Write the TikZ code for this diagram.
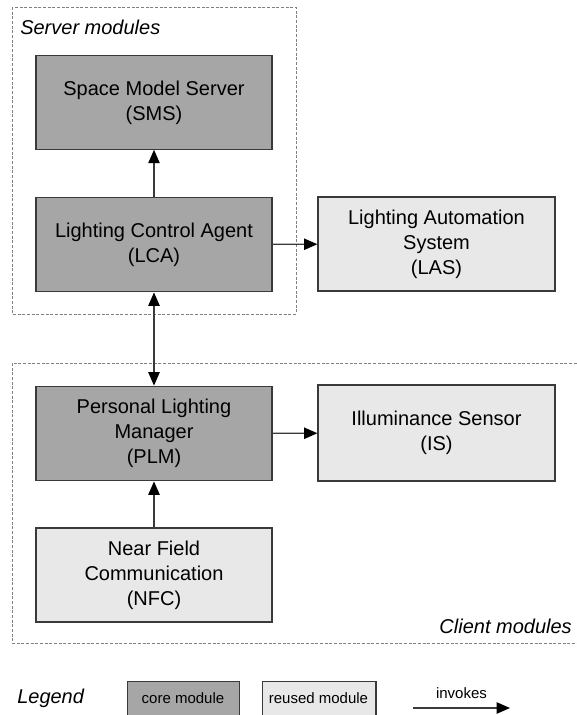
\documentclass[tikz,border=0pt]{standalone}
\usepackage{fontspec}
\setmainfont{Liberation Sans}
\usetikzlibrary{arrows.meta}
\definecolor{coregray}{HTML}{A6A6A6}
\definecolor{reusegray}{HTML}{E8E8E8}
\definecolor{edgegray}{HTML}{3A3A3A}
\definecolor{dashgray}{HTML}{808080}
\begin{document}
\begin{tikzpicture}[x=0.75pt, y=-0.75pt,
    box/.style={draw=edgegray, line width=0.9pt, align=center, inner sep=0pt,
        minimum width=177pt, font=\fontsize{15}{18.75}\selectfont},
    core/.style={box, fill=coregray},
    reused/.style={box, fill=reusegray},
    group/.style={draw=dashgray, line width=0.7pt, dash pattern=on 2.2pt off 1.3pt},
    tip/.tip={Triangle[length=10pt, width=8.5pt, color=black]},
    invoke/.style={-tip, draw=edgegray, line width=0.9pt},
    grouplabel/.style={font=\fontsize{15}{18}\selectfont\itshape, inner sep=0pt}]
    \useasboundingbox (0,0) rectangle (577,715);

    % Gruppen
    \draw[group] (12,7) rectangle (296,314);
    \draw[group] (600,363) -- (12,363) -- (12,643) -- (600,643);
    \node[grouplabel, anchor=west] (srvlbl) at (20,27) {Server modules};
    \node[grouplabel, anchor=east] (clilbl) at (572,626) {Client modules};

    % Server
    \node[core, minimum height=70pt] (sms) at (154,102.5) {Space Model Server\\(SMS)};
    \node[core, minimum height=71pt] (lca) at (154,244.5) {Lighting Control Agent\\(LCA)};
    \node[reused, minimum width=177.75pt, minimum height=70.5pt] (las) at (436.5,244) {Lighting Automation\\System\\(LAS)};

    % Client
    \node[core, minimum height=71pt] (plm) at (154,433.5) {Personal Lighting\\Manager\\(PLM)};
    \node[reused, minimum width=177.75pt, minimum height=72pt] (is) at (436.5,433) {Illuminance Sensor\\(IS)};
    \node[reused, minimum height=70.5pt] (nfc) at (154,575) {Near Field\\Communication\\(NFC)};

    \draw[invoke] (lca) -- (sms);
    \draw[invoke] (lca) -- (las);
    \draw[invoke, tip-tip] (lca) -- (plm);
    \draw[invoke] (plm) -- (is);
    \draw[invoke] (nfc) -- (plm);

    % Legende
    \node[grouplabel, anchor=west] (legend) at (17,698) {Legend};
    \node[box, fill=coregray, minimum width=84pt, minimum height=40pt, anchor=north west] (lcore) at (127,681) {};
    \node[font=\fontsize{11.25}{13}\selectfont] (lcoretxt) at (183,698) {core module};
    \node[box, fill=reusegray, minimum width=85pt, minimum height=40pt, anchor=north west] (lreused) at (262,681) {};
    \node[font=\fontsize{11.25}{13}\selectfont] (lreusedtxt) at (318.5,698) {reused module};
    \coordinate (invA) at (413,708);
    \coordinate (invB) at (510,708);
    \draw[invoke] (invA) -- (invB) node[midway, above=3pt, font=\fontsize{11.25}{13}\selectfont] (invtxt) {invokes};
\end{tikzpicture}
\end{document}
